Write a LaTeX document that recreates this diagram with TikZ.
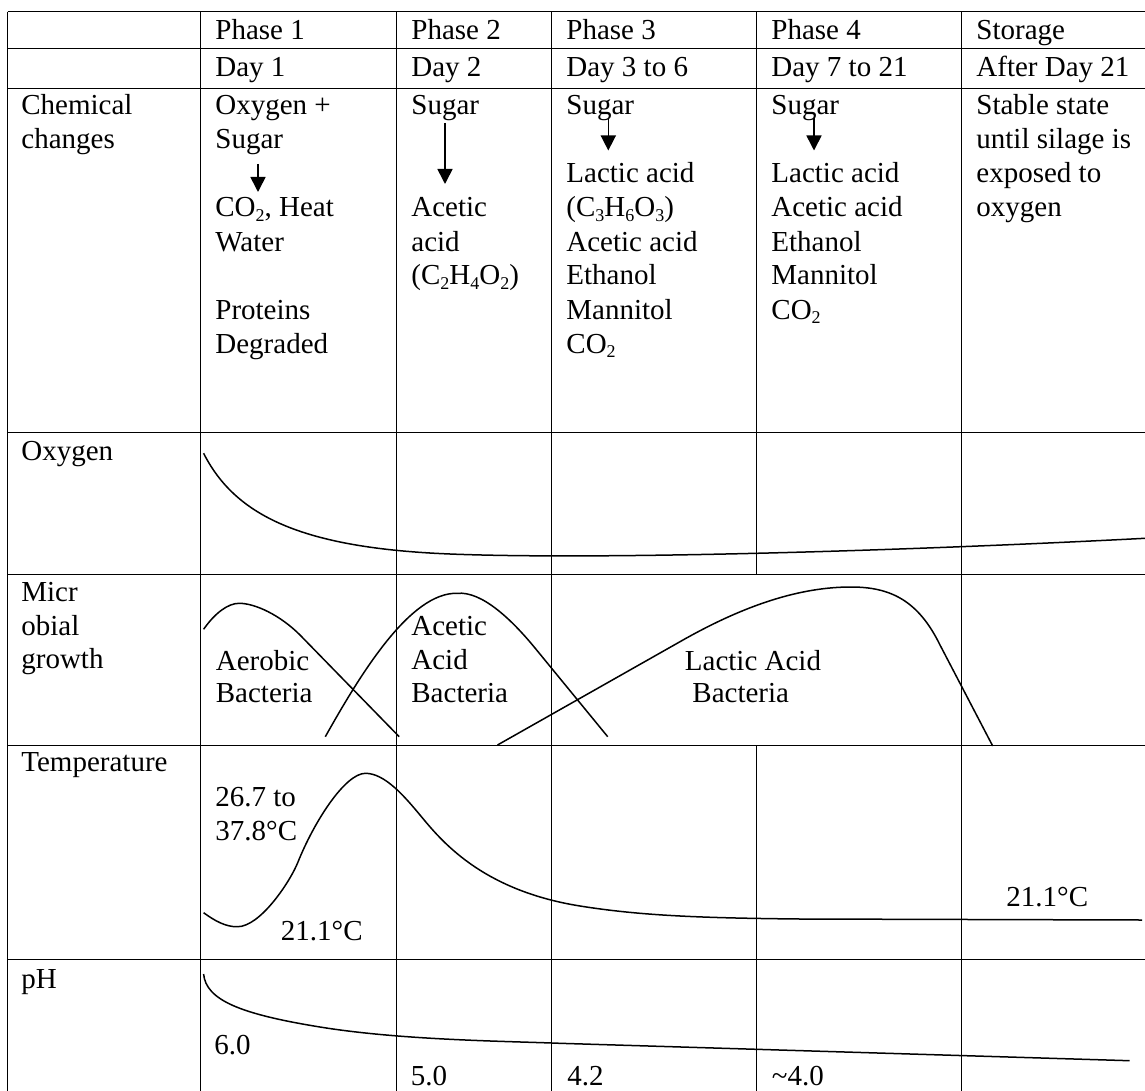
\documentclass[tikz,border=0pt]{standalone}
\usepackage{fontspec}
\setmainfont{Liberation Serif}
\usetikzlibrary{arrows.meta}
\newcommand\lowsub[1]{\raisebox{-0.16em}{\fontsize{9}{9}\selectfont #1}}
\begin{document}
\begin{tikzpicture}[x=0.5pt,y=-0.5pt,
  gridline/.style={line width=0.55pt},
  curve/.style={line width=0.75pt},
  txt/.style={anchor=base west,inner sep=0pt,font=\fontsize{14.5}{17}\selectfont},
  darrow/.style={line width=0.8pt,-{Triangle[width=7.5pt,length=7.5pt]}}]
\useasboundingbox (0,0) rectangle (1145,1091);
% ---- grid ----
\foreach \yy in {11.7,48.3,88.3,432.3,574.3,745.2,959.3}
  \draw[gridline] (7.7,\yy) -- (1145,\yy);
\foreach \xx in {7.7,200.5,396.4,551.5,961.5}
  \draw[gridline] (\xx,11.7) -- (\xx,1091);
\draw[gridline] (756.6,11.7) -- (756.6,574.3);
\draw[gridline] (756.6,745.2) -- (756.6,1091);
% ---- header ----
\node[txt] (p1) at (215,39.3) {Phase 1};
\node[txt] (p2) at (411,39.3) {Phase 2};
\node[txt] (p3) at (566,39.3) {Phase 3};
\node[txt] (p4) at (771,39.3) {Phase 4};
\node[txt] (p5) at (976,39.3) {Storage};
\node[txt] (d1) at (215,76.7) {Day 1};
\node[txt] (d2) at (411,76.7) {Day 2};
\node[txt] (d3) at (566,76.7) {Day 3 to 6};
\node[txt] (d4) at (771,76.7) {Day 7 to 21};
\node[txt] (d5) at (976,76.7) {After Day 21};
% ---- row labels ----
\node[txt] (l1a) at (21,115) {Chemical};
\node[txt] (l1b) at (21,149) {changes};
\node[txt] (l2) at (21,460) {Oxygen};
\node[txt] (l3a) at (21,601.7) {Micr};
\node[txt] (l3b) at (21,635) {obial};
\node[txt] (l3c) at (21,668.3) {growth};
\node[txt] (l4) at (21,771.7) {Temperature};
\node[txt] (l5) at (21,988.3) {pH};
% ---- chemical changes ----
\node[txt] (c1a) at (215,115) {Oxygen +};
\node[txt] (c1b) at (215,149) {Sugar};
\node[txt] (c1c) at (215,217) {CO\lowsub{2}, Heat};
\node[txt] (c1d) at (215,251) {Water};
\node[txt] (c1e) at (215,319) {Proteins};
\node[txt] (c1f) at (215,353) {Degraded};
\node[txt] (c2a) at (411,115) {Sugar};
\node[txt] (c2b) at (411,217) {Acetic};
\node[txt] (c2c) at (411,251) {acid};
\node[txt] (c2d) at (411,285) {(C\lowsub{2}H\lowsub{4}O\lowsub{2})};
\node[txt] (c3a) at (566,115) {Sugar};
\node[txt] (c3b) at (566,183) {Lactic acid};
\node[txt] (c3c) at (566,217) {(C\lowsub{3}H\lowsub{6}O\lowsub{3})};
\node[txt] (c3d) at (566,251) {Acetic acid};
\node[txt] (c3e) at (566,285) {Ethanol};
\node[txt] (c3f) at (566,319) {Mannitol};
\node[txt] (c3g) at (566,353) {CO\lowsub{2}};
\node[txt] (c4a) at (771,115) {Sugar};
\node[txt] (c4b) at (771,183) {Lactic acid};
\node[txt] (c4c) at (771,217) {Acetic acid};
\node[txt] (c4d) at (771,251) {Ethanol};
\node[txt] (c4e) at (771,285) {Mannitol};
\node[txt] (c4f) at (771,319) {CO\lowsub{2}};
\node[txt] (c5a) at (976,115) {Stable state};
\node[txt] (c5b) at (976,149) {until silage is};
\node[txt] (c5c) at (976,183) {exposed to};
\node[txt] (c5d) at (976,217) {oxygen};
% arrows
\coordinate (a1s) at (258,164);   \coordinate (a1e) at (258,192);
\coordinate (a2s) at (445,123);   \coordinate (a2e) at (445,184);
\coordinate (a3s) at (608.3,118); \coordinate (a3e) at (608.3,150.5);
\coordinate (a4s) at (814,118);   \coordinate (a4e) at (814,150.5);
\draw[darrow] (a1s) -- (a1e);
\draw[darrow] (a2s) -- (a2e);
\draw[darrow] (a3s) -- (a3e);
\draw[darrow] (a4s) -- (a4e);
% ---- oxygen ----
\draw[curve] (203.6,453.3) .. controls (235,515) and (300,548) .. (450,554)
  .. controls (600,560) and (900,551) .. (1145,538.3);
% ---- microbial growth ----
\draw[curve] (203.6,629.3) .. controls (215,613) and (228,603.3) .. (239.2,603.3)
  .. controls (255,603.3) and (280,615) .. (300,635) -- (399.2,736.7);
\draw[curve] (325.3,736.7) .. controls (360,675) and (410,592) .. (457.3,593.3)
  .. controls (482,591) and (512,620) .. (535,648) -- (607.7,736.7);
\draw[curve] (497.5,745) -- (683,640) .. controls (745,605) and (800,587) .. (851,587)
  .. controls (890,587) and (918,600) .. (940,645) -- (992.7,746);
\node[txt] (m1a) at (215.5,670) {Aerobic};
\node[txt] (m1b) at (215.5,702.7) {Bacteria};
\node[txt] (m2a) at (411,635) {Acetic};
\node[txt] (m2b) at (411,669.3) {Acid};
\node[txt] (m2c) at (411,702.7) {Bacteria};
\node[txt] (m3a) at (684.5,670) {Lactic Acid};
\node[txt] (m3b) at (692,702.7) {Bacteria};
% ---- temperature ----
\draw[curve] (203.6,912.7) .. controls (215,921) and (226,927) .. (237.3,926.7)
  .. controls (260,927) and (290,882) .. (298,862)
  .. controls (314,822) and (345,773.3) .. (365.5,773.3)
  .. controls (385,773.3) and (405,797) .. (420,815)
  .. controls (440,839) and (480,890) .. (580,906)
  .. controls (640,915.6) and (700,918) .. (800,919) -- (1142,920);
\node[txt] (t1a) at (215,806.7) {26.7 to};
\node[txt] (t1b) at (215,840) {37.8°C};
\node[txt] (t1c) at (280.5,940) {21.1°C};
\node[txt] (t5) at (1006,906.7) {21.1°C};
% ---- pH ----
\draw[curve] (203.6,974) .. controls (206,1000) and (240,1014) .. (320,1027)
  .. controls (400,1040) and (500,1041) .. (560,1043.3) -- (1129.6,1060.7);
\node[txt] (h1) at (214,1054) {6.0};
\node[txt] (h2) at (410.5,1085) {5.0};
\node[txt] (h3) at (567,1085) {4.2};
\node[txt] (h4) at (771.5,1085) {\textasciitilde4.0};
\end{tikzpicture}
\end{document}
